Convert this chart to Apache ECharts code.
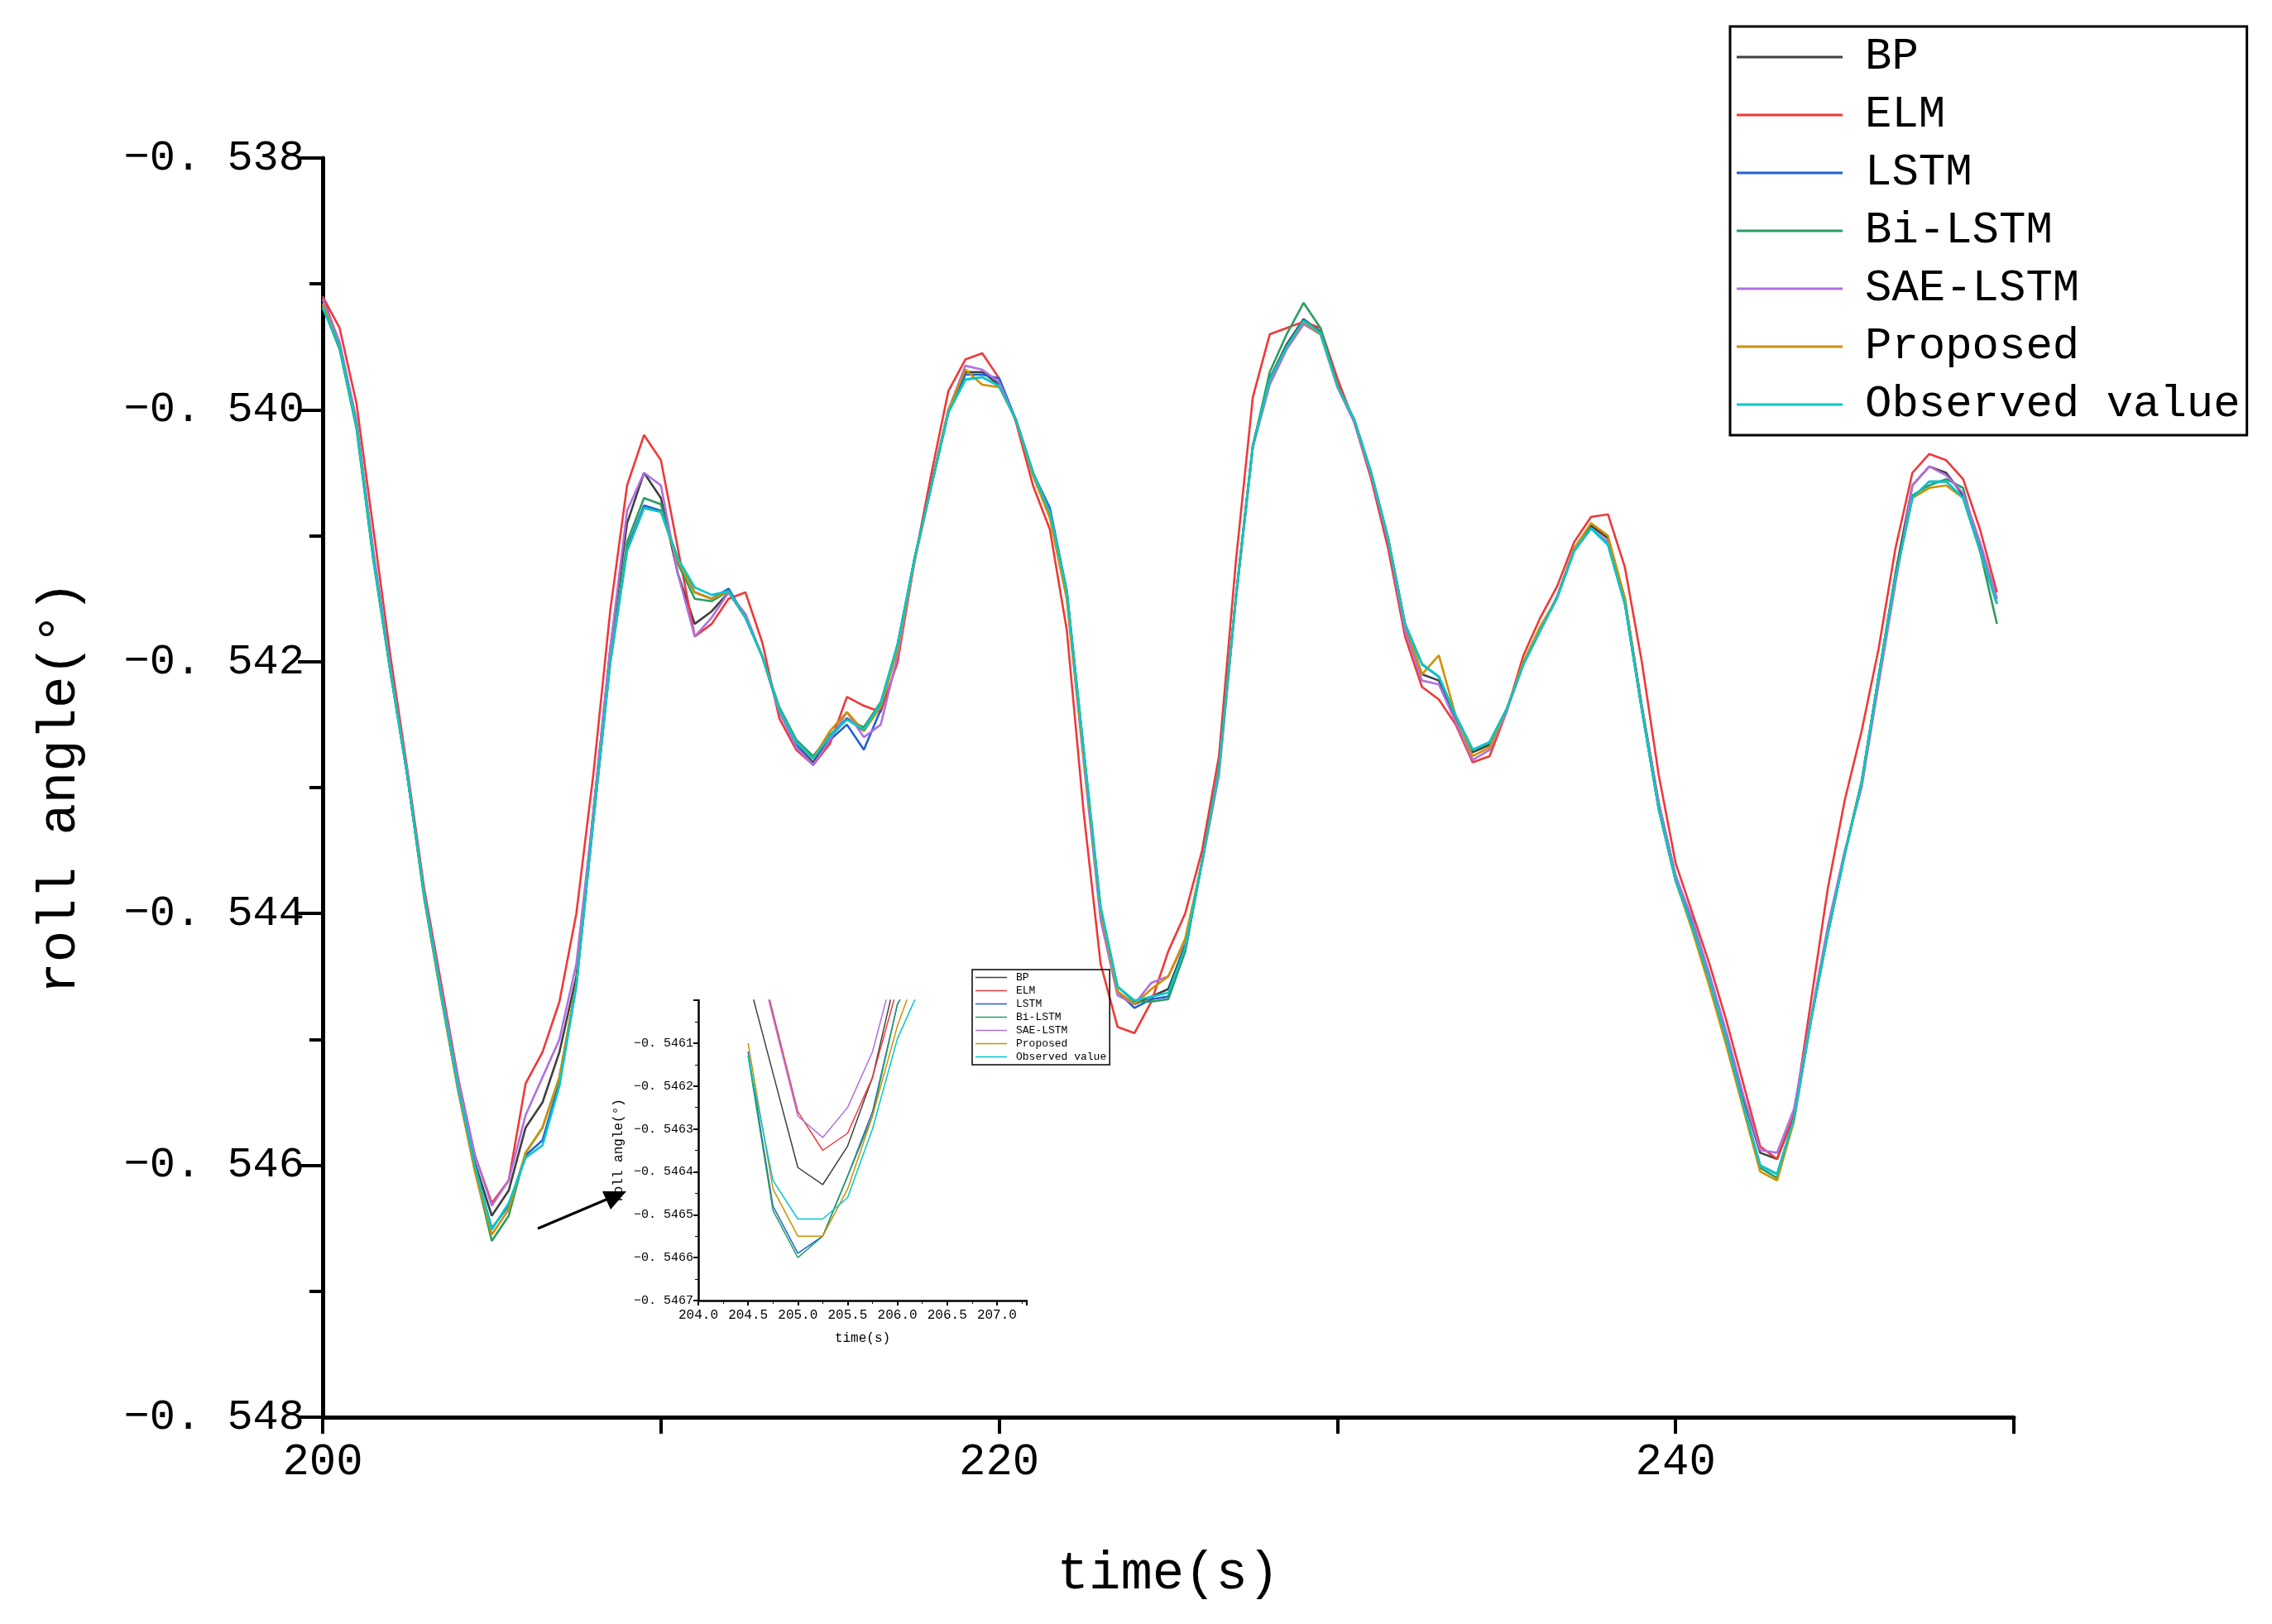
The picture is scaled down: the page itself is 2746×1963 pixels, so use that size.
<!DOCTYPE html>
<html><head><meta charset="utf-8">
<script src="https://cdn.jsdelivr.net/npm/echarts@6/dist/echarts.min.js"></script>
<style>html,body{margin:0;padding:0;background:#fff}#c{width:2746px;height:1963px}</style>
</head><body><div id="c"></div>
<script>
const names = ['BP','ELM','LSTM','Bi-LSTM','SAE-LSTM','Proposed','Observed value'];
const colors = ['#404040','#f03838','#1f60d8','#2a9d62','#b070e0','#d09000','#00c8cc'];
const times = [200,200.5,201,201.5,202,202.5,203,203.5,204,204.5,205,205.5,206,206.5,207,207.5,208,208.5,209,209.5,
210,210.5,211,211.5,212,212.5,213,213.5,214,214.5,215,215.5,216,216.5,217,217.5,218,218.5,219,219.5,
220,220.5,221,221.5,222,222.5,223,223.5,224,224.5,225,225.5,226,226.5,227,227.5,228,228.5,229,229.5,
230,230.5,231,231.5,232,232.5,233,233.5,234,234.5,235,235.5,236,236.5,237,237.5,238,238.5,239,239.5,
240,240.5,241,241.5,242,242.5,243,243.5,244,244.5,245,245.5,246,246.5,247,247.5,248,248.5,249,249.5];
const observed = [-0.53919,-0.53950,-0.54013,-0.54118,-0.54207,-0.54290,-0.54385,-0.54463,-0.54537,-0.54600,
-0.54651,-0.54630,-0.54594,-0.54584,-0.54537,-0.54458,-0.54327,-0.54201,-0.54112,-0.54078,
-0.54081,-0.54118,-0.54141,-0.54147,-0.54144,-0.54165,-0.54196,-0.54238,-0.54264,-0.54277,
-0.54259,-0.54246,-0.54254,-0.54233,-0.54186,-0.54118,-0.54060,-0.54002,-0.53976,-0.53974,
-0.53981,-0.54008,-0.54050,-0.54081,-0.54144,-0.54270,-0.54395,-0.54458,-0.54469,-0.54466,
-0.54463,-0.54427,-0.54359,-0.54286,-0.54149,-0.54029,-0.53976,-0.53950,-0.53929,-0.53939,
-0.53981,-0.54008,-0.54050,-0.54102,-0.54170,-0.54202,-0.54212,-0.54243,-0.54270,-0.54264,
-0.54238,-0.54202,-0.54175,-0.54149,-0.54112,-0.54094,-0.54107,-0.54154,-0.54238,-0.54317,
-0.54374,-0.54411,-0.54453,-0.54500,-0.54552,-0.54600,-0.54607,-0.54563,-0.54485,-0.54416,
-0.54353,-0.54296,-0.54212,-0.54133,-0.54070,-0.54057,-0.54057,-0.54070,-0.54112,-0.54154];
const elm = [-0.53910,-0.53935,-0.53995,-0.54095,-0.54195,-0.54285,-0.54380,-0.54455,-0.54530,-0.54592,
-0.54630,-0.54612,-0.54535,-0.54510,-0.54470,-0.54400,-0.54290,-0.54160,-0.54060,-0.54020,
-0.54040,-0.54110,-0.54180,-0.54170,-0.54150,-0.54145,-0.54185,-0.54245,-0.54270,-0.54282,
-0.54265,-0.54228,-0.54235,-0.54240,-0.54200,-0.54120,-0.54050,-0.53985,-0.53960,-0.53955,
-0.53975,-0.54010,-0.54060,-0.54095,-0.54175,-0.54320,-0.54440,-0.54490,-0.54495,-0.54470,
-0.54430,-0.54400,-0.54350,-0.54275,-0.54120,-0.53990,-0.53940,-0.53935,-0.53930,-0.53935,
-0.53975,-0.54010,-0.54055,-0.54110,-0.54180,-0.54220,-0.54230,-0.54250,-0.54280,-0.54275,
-0.54240,-0.54195,-0.54165,-0.54140,-0.54105,-0.54085,-0.54083,-0.54125,-0.54200,-0.54290,
-0.54360,-0.54400,-0.54440,-0.54485,-0.54535,-0.54585,-0.54595,-0.54560,-0.54470,-0.54380,
-0.54310,-0.54255,-0.54190,-0.54110,-0.54050,-0.54035,-0.54040,-0.54055,-0.54095,-0.54145];
const bp = [-0.53910,-0.53948,-0.54010,-0.54115,-0.54205,-0.54290,-0.54385,-0.54460,-0.54535,-0.54598,
-0.54640,-0.54620,-0.54570,-0.54550,-0.54510,-0.54450,-0.54320,-0.54190,-0.54090,-0.54050,
-0.54070,-0.54130,-0.54170,-0.54160,-0.54145,-0.54165,-0.54196,-0.54240,-0.54266,-0.54280,
-0.54260,-0.54245,-0.54255,-0.54235,-0.54188,-0.54118,-0.54058,-0.54000,-0.53970,-0.53970,
-0.53980,-0.54008,-0.54050,-0.54082,-0.54146,-0.54275,-0.54400,-0.54462,-0.54472,-0.54466,
-0.54460,-0.54425,-0.54358,-0.54285,-0.54148,-0.54028,-0.53975,-0.53948,-0.53928,-0.53938,
-0.53980,-0.54008,-0.54050,-0.54104,-0.54172,-0.54210,-0.54215,-0.54245,-0.54272,-0.54266,
-0.54238,-0.54202,-0.54175,-0.54148,-0.54110,-0.54092,-0.54102,-0.54150,-0.54235,-0.54312,
-0.54370,-0.54408,-0.54450,-0.54496,-0.54546,-0.54590,-0.54595,-0.54560,-0.54484,-0.54414,
-0.54352,-0.54295,-0.54212,-0.54130,-0.54060,-0.54045,-0.54050,-0.54068,-0.54110,-0.54150];
const lstm = [-0.53915,-0.53950,-0.54013,-0.54118,-0.54207,-0.54290,-0.54385,-0.54463,-0.54537,-0.54602,
-0.54650,-0.54632,-0.54592,-0.54580,-0.54534,-0.54456,-0.54327,-0.54201,-0.54110,-0.54076,
-0.54080,-0.54118,-0.54145,-0.54150,-0.54142,-0.54165,-0.54196,-0.54238,-0.54266,-0.54282,
-0.54262,-0.54250,-0.54270,-0.54238,-0.54186,-0.54118,-0.54060,-0.54002,-0.53972,-0.53972,
-0.53975,-0.54008,-0.54050,-0.54078,-0.54144,-0.54272,-0.54398,-0.54462,-0.54475,-0.54468,
-0.54466,-0.54430,-0.54359,-0.54286,-0.54149,-0.54029,-0.53976,-0.53950,-0.53929,-0.53939,
-0.53981,-0.54008,-0.54050,-0.54102,-0.54170,-0.54202,-0.54212,-0.54243,-0.54270,-0.54264,
-0.54238,-0.54202,-0.54175,-0.54149,-0.54112,-0.54094,-0.54107,-0.54154,-0.54238,-0.54317,
-0.54374,-0.54411,-0.54453,-0.54500,-0.54552,-0.54600,-0.54607,-0.54563,-0.54485,-0.54416,
-0.54353,-0.54296,-0.54212,-0.54133,-0.54070,-0.54057,-0.54057,-0.54070,-0.54112,-0.54154];
const bilstm = [-0.53918,-0.53952,-0.54015,-0.54120,-0.54208,-0.54290,-0.54388,-0.54466,-0.54540,-0.54604,
-0.54660,-0.54640,-0.54590,-0.54570,-0.54530,-0.54456,-0.54325,-0.54198,-0.54105,-0.54070,
-0.54075,-0.54122,-0.54150,-0.54152,-0.54144,-0.54165,-0.54196,-0.54236,-0.54262,-0.54275,
-0.54258,-0.54246,-0.54252,-0.54232,-0.54186,-0.54118,-0.54060,-0.54002,-0.53976,-0.53974,
-0.53981,-0.54008,-0.54050,-0.54081,-0.54144,-0.54270,-0.54395,-0.54458,-0.54470,-0.54470,
-0.54468,-0.54430,-0.54359,-0.54286,-0.54149,-0.54029,-0.53970,-0.53940,-0.53915,-0.53935,
-0.53981,-0.54008,-0.54050,-0.54102,-0.54170,-0.54202,-0.54212,-0.54243,-0.54270,-0.54264,
-0.54238,-0.54202,-0.54175,-0.54149,-0.54112,-0.54094,-0.54107,-0.54154,-0.54238,-0.54317,
-0.54372,-0.54405,-0.54453,-0.54500,-0.54552,-0.54602,-0.54610,-0.54563,-0.54485,-0.54416,
-0.54353,-0.54296,-0.54212,-0.54133,-0.54068,-0.54060,-0.54055,-0.54062,-0.54112,-0.54170];
const saelstm = [-0.53912,-0.53946,-0.54008,-0.54112,-0.54204,-0.54288,-0.54384,-0.54460,-0.54532,-0.54592,
-0.54632,-0.54612,-0.54560,-0.54530,-0.54500,-0.54440,-0.54320,-0.54190,-0.54080,-0.54050,
-0.54060,-0.54130,-0.54180,-0.54165,-0.54145,-0.54162,-0.54196,-0.54240,-0.54268,-0.54282,
-0.54262,-0.54240,-0.54260,-0.54250,-0.54195,-0.54120,-0.54060,-0.54000,-0.53965,-0.53968,
-0.53978,-0.54008,-0.54052,-0.54084,-0.54150,-0.54280,-0.54405,-0.54465,-0.54472,-0.54455,
-0.54450,-0.54422,-0.54360,-0.54290,-0.54150,-0.54030,-0.53980,-0.53952,-0.53932,-0.53940,
-0.53982,-0.54010,-0.54052,-0.54104,-0.54175,-0.54215,-0.54218,-0.54248,-0.54278,-0.54270,
-0.54240,-0.54202,-0.54175,-0.54148,-0.54112,-0.54094,-0.54105,-0.54152,-0.54236,-0.54312,
-0.54370,-0.54405,-0.54448,-0.54494,-0.54544,-0.54588,-0.54590,-0.54555,-0.54482,-0.54410,
-0.54350,-0.54300,-0.54218,-0.54138,-0.54060,-0.54045,-0.54052,-0.54066,-0.54105,-0.54150];
const proposed = [-0.53916,-0.53950,-0.54012,-0.54118,-0.54207,-0.54290,-0.54386,-0.54465,-0.54540,-0.54605,
-0.54655,-0.54635,-0.54590,-0.54570,-0.54530,-0.54456,-0.54327,-0.54201,-0.54112,-0.54078,
-0.54081,-0.54120,-0.54145,-0.54150,-0.54144,-0.54165,-0.54196,-0.54238,-0.54264,-0.54277,
-0.54255,-0.54240,-0.54255,-0.54236,-0.54190,-0.54120,-0.54060,-0.54000,-0.53968,-0.53980,
-0.53982,-0.54008,-0.54052,-0.54086,-0.54150,-0.54275,-0.54398,-0.54462,-0.54472,-0.54460,
-0.54450,-0.54420,-0.54359,-0.54286,-0.54149,-0.54029,-0.53976,-0.53950,-0.53930,-0.53940,
-0.53981,-0.54008,-0.54050,-0.54102,-0.54170,-0.54210,-0.54195,-0.54243,-0.54275,-0.54268,
-0.54238,-0.54200,-0.54172,-0.54149,-0.54110,-0.54090,-0.54100,-0.54150,-0.54238,-0.54317,
-0.54374,-0.54414,-0.54458,-0.54505,-0.54555,-0.54605,-0.54612,-0.54565,-0.54485,-0.54416,
-0.54353,-0.54296,-0.54212,-0.54133,-0.54070,-0.54062,-0.54060,-0.54070,-0.54112,-0.54154];
const mainSeries = [bp, elm, lstm, bilstm, saelstm, proposed, observed];

// inset (zoom near the trough)
const insetTimes = [204.5,204.75,205,205.25,205.5,205.75,206,206.25];
const insetBP = [-0.54595,-0.54617,-0.54639,-0.54643,-0.54634,-0.54618,-0.54593,-0.54580];
const insetELM = [-0.54580,-0.54603,-0.54626,-0.54635,-0.54631,-0.54618,-0.54597,-0.54580];
const insetLSTM = [-0.54612,-0.54648,-0.54659,-0.54655,-0.54641,-0.54626,-0.54601,-0.54590];
const insetBi = [-0.54613,-0.54649,-0.54660,-0.54655,-0.54641,-0.54627,-0.54601,-0.54590];
const insetSAE = [-0.54580,-0.54604,-0.54627,-0.54632,-0.54625,-0.54612,-0.54590,-0.54578];
const insetProp = [-0.54610,-0.54644,-0.54655,-0.54655,-0.54644,-0.54627,-0.54606,-0.54590];
const insetObs = [-0.54613,-0.54642,-0.54651,-0.54651,-0.54646,-0.54630,-0.54609,-0.54596];
const insetSeries = [insetBP, insetELM, insetLSTM, insetBi, insetSAE, insetProp, insetObs];

const FONT = 'Liberation Mono';
const fmtMain = v => v.toFixed(3).replace('-', '\u2212').replace('.', '. ');
const fmtInset = v => v > -0.54605 ? '' : v.toFixed(4).replace('-', '\u2212').replace('.', '. ');

const series = [];
names.forEach((n, i) => {
  series.push({name: n, type: 'line', xAxisIndex: 0, yAxisIndex: 0, showSymbol: false, symbol: 'none',
    data: times.map((t, k) => [t, mainSeries[i][k]]), lineStyle: {width: 2.6, color: colors[i]}, itemStyle: {color: colors[i]}, z: 2});
  series.push({name: n, type: 'line', xAxisIndex: 1, yAxisIndex: 1, showSymbol: false, symbol: 'none', clip: true,
    data: insetTimes.map((t, k) => [t, insetSeries[i][k]]), lineStyle: {width: 1.5, color: colors[i]}, itemStyle: {color: colors[i]}, z: 3});
});

const chart = echarts.init(document.getElementById('c'));
chart.setOption({
  animation: false,
  backgroundColor: '#fff',
  grid: [
    {left: 390, right: 312, top: 191, bottom: 250},
    {left: 844, top: 1209, width: 397, height: 363}
  ],
  xAxis: [
    {type: 'value', gridIndex: 0, min: 200, max: 250, interval: 10,
     axisLine: {lineStyle: {color: '#000', width: 5}},
     axisTick: {length: 20, lineStyle: {width: 4, color: '#000'}},
     axisLabel: {formatter: v => (v % 20 === 0 && v < 250) ? String(v) : '', fontFamily: FONT, fontSize: 54, color: '#000', margin: 28},
     splitLine: {show: false},
     name: 'time(s)', nameLocation: 'middle', nameGap: 158, nameTextStyle: {fontFamily: FONT, fontSize: 64, color: '#000'}},
    {type: 'value', gridIndex: 1, min: 204, max: 207.3, interval: 0.5,
     axisLine: {lineStyle: {color: '#000', width: 2.5}},
     axisTick: {length: 6, lineStyle: {width: 2}},
     minorTick: {show: true, splitNumber: 2, length: 4},
     axisLabel: {formatter: v => v > 207.1 ? '' : v.toFixed(1), fontFamily: FONT, fontSize: 16, color: '#000', margin: 10},
     splitLine: {show: false},
     name: 'time(s)', nameLocation: 'middle', nameGap: 38, nameTextStyle: {fontFamily: FONT, fontSize: 16, color: '#000'}}
  ],
  yAxis: [
    {type: 'value', gridIndex: 0, min: -0.548, max: -0.538, interval: 0.002,
     axisLine: {show: true, lineStyle: {color: '#000', width: 5}},
     axisTick: {show: true, length: 30, lineStyle: {width: 4, color: '#000'}},
     minorTick: {show: true, splitNumber: 2, length: 16, lineStyle: {width: 4, color: '#000'}},
     axisLabel: {formatter: fmtMain, fontFamily: FONT, fontSize: 52, color: '#000', margin: 22},
     splitLine: {show: false},
     name: 'roll angle(°)', nameLocation: 'middle', nameGap: 285, nameTextStyle: {fontFamily: FONT, fontSize: 64, color: '#000'}},
    {type: 'value', gridIndex: 1, min: -0.5467, max: -0.546, interval: 0.0001,
     axisLine: {show: true, lineStyle: {color: '#000', width: 2.5}},
     axisTick: {show: true, length: 6, lineStyle: {width: 2}},
     minorTick: {show: true, splitNumber: 2, length: 4},
     axisLabel: {formatter: fmtInset, fontFamily: FONT, fontSize: 15, color: '#000', margin: 6},
     splitLine: {show: false},
     name: 'roll angle(°)', nameLocation: 'middle', nameGap: 88, nameTextStyle: {fontFamily: FONT, fontSize: 16, color: '#000'}}
  ],
  legend: [
    {data: names, orient: 'vertical', left: 2091, top: 32, itemWidth: 128, itemHeight: 3, icon: 'rect', itemGap: 16,
     padding: [10, 8, 10, 8], borderColor: '#000', borderWidth: 3,
     textStyle: {fontFamily: FONT, fontSize: 54, color: '#000', padding: [0, 0, 0, 22]}},
    {data: names, orient: 'vertical', left: 1175, top: 1172, itemWidth: 38, itemHeight: 1.5, icon: 'rect', itemGap: 3,
     padding: [3, 4, 3, 4], borderColor: '#000', borderWidth: 1.5,
     textStyle: {fontFamily: FONT, fontSize: 13, color: '#000', padding: [0, 0, 0, 6]}}
  ],
  graphic: [
    {type: 'line', shape: {x1: 650, y1: 1485, x2: 735, y2: 1449}, style: {stroke: '#000', lineWidth: 3}},
    {type: 'polygon', shape: {points: [[757, 1440], [728, 1440], [738, 1462]]}, style: {fill: '#000'}}
  ],
  series: series
});
</script></body></html>
